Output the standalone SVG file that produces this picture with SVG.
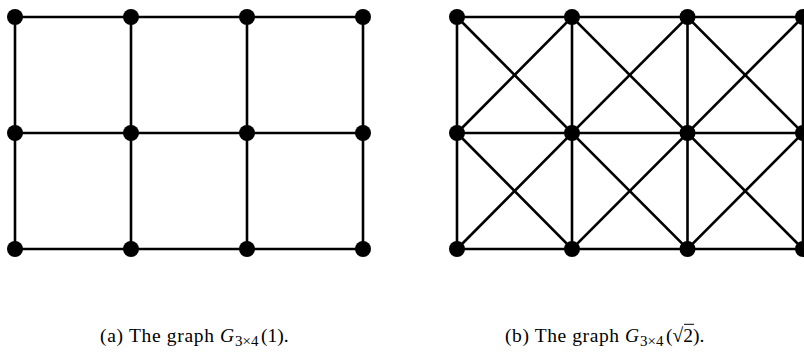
<svg xmlns="http://www.w3.org/2000/svg" width="804" height="358" viewBox="0 0 804 358">
<style>
.e{stroke:#000;stroke-width:2.6;fill:none;stroke-linecap:butt}
.n{fill:#000}
.cap{font-family:"Liberation Serif","DejaVu Serif",serif;font-size:19.5px;fill:#000}
.it{font-style:italic}
.sub{font-size:15px}
</style>
<rect width="804" height="358" fill="#fff"/>
<g id="connectors">
<g id="edges-a" class="e">
<path d="M15 17H363M15 133H363M15 249H363M15 17V249M131 17V249M247 17V249M363 17V249"/>
</g>
<g id="edges-b" class="e">
<path d="M457 17H803M457 133H803M457 249H803M457 17V249M572 17V249M687.5 17V249M803 17V249"/>
<path d="M457 17L572 133L687.5 17L803 133L687.5 249L572 133L457 249"/>
<path d="M457 133L572 17L687.5 133L803 17M457 133L572 249L687.5 133L803 249"/>
</g>
</g>
<g id="graph-a">
<g id="a11"><circle class="n" cx="15" cy="17" r="8"/></g>
<g id="a12"><circle class="n" cx="131" cy="17" r="8"/></g>
<g id="a13"><circle class="n" cx="247" cy="17" r="8"/></g>
<g id="a14"><circle class="n" cx="363" cy="17" r="8"/></g>
<g id="a21"><circle class="n" cx="15" cy="133" r="8"/></g>
<g id="a22"><circle class="n" cx="131" cy="133" r="8"/></g>
<g id="a23"><circle class="n" cx="247" cy="133" r="8"/></g>
<g id="a24"><circle class="n" cx="363" cy="133" r="8"/></g>
<g id="a31"><circle class="n" cx="15" cy="249" r="8"/></g>
<g id="a32"><circle class="n" cx="131" cy="249" r="8"/></g>
<g id="a33"><circle class="n" cx="247" cy="249" r="8"/></g>
<g id="a34"><circle class="n" cx="363" cy="249" r="8"/></g>
</g>
<g id="graph-b">
<g id="b11"><circle class="n" cx="457" cy="17" r="8"/></g>
<g id="b12"><circle class="n" cx="572" cy="17" r="8"/></g>
<g id="b13"><circle class="n" cx="687.5" cy="17" r="8"/></g>
<g id="b14"><circle class="n" cx="803" cy="17" r="8"/></g>
<g id="b21"><circle class="n" cx="457" cy="133" r="8"/></g>
<g id="b22"><circle class="n" cx="572" cy="133" r="8"/></g>
<g id="b23"><circle class="n" cx="687.5" cy="133" r="8"/></g>
<g id="b24"><circle class="n" cx="803" cy="133" r="8"/></g>
<g id="b31"><circle class="n" cx="457" cy="249" r="8"/></g>
<g id="b32"><circle class="n" cx="572" cy="249" r="8"/></g>
<g id="b33"><circle class="n" cx="687.5" cy="249" r="8"/></g>
<g id="b34"><circle class="n" cx="803" cy="249" r="8"/></g>
</g>
<g id="caption-a" class="cap">
<text x="100" y="342" textLength="114" lengthAdjust="spacing">(a) The graph</text>
<text class="it" x="220" y="342">G</text>
<text class="sub" x="235" y="346">3×4</text>
<text x="261" y="342">(1).</text>
</g>
<g id="caption-b" class="cap">
<text x="505" y="342" textLength="114" lengthAdjust="spacing">(b) The graph</text>
<text class="it" x="625" y="342">G</text>
<text class="sub" x="640" y="346">3×4</text>
<text x="666" y="342">(√2).</text>
<line x1="684" y1="324.3" x2="694" y2="324.3" stroke="#000" stroke-width="1"/>
</g>
</svg>
